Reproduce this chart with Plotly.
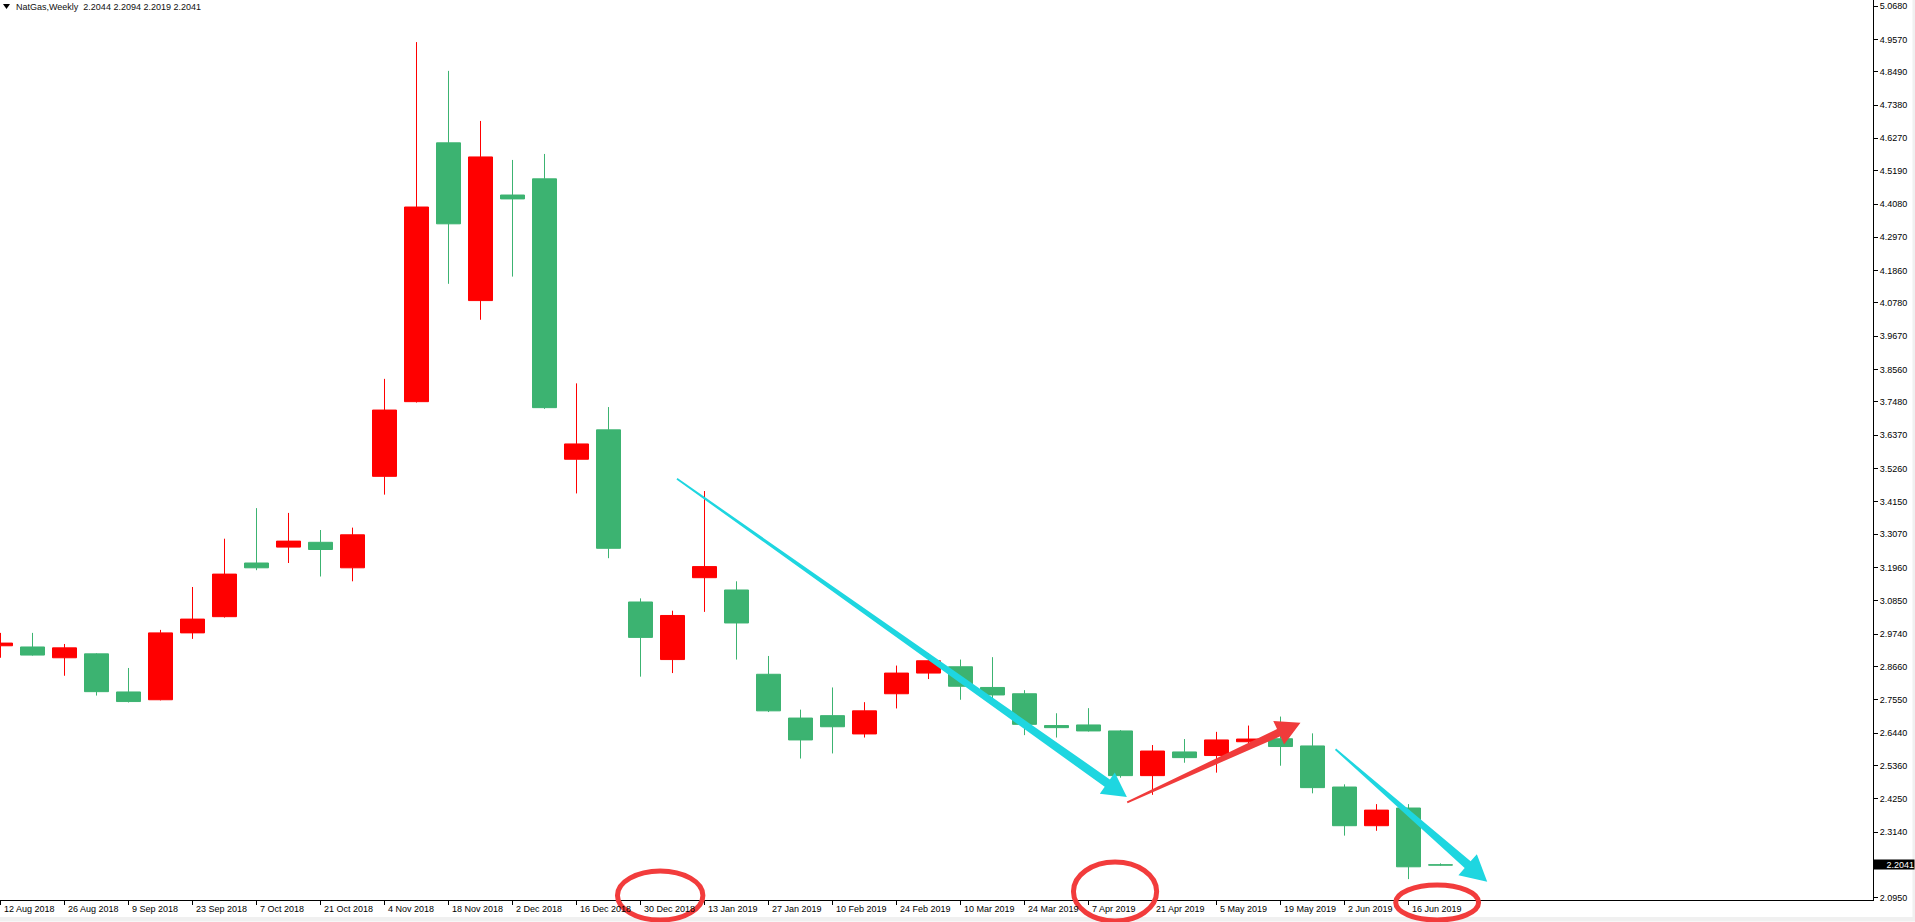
import math
import plotly.graph_objects as go

# ---------------- data (weekly NatGas candles, index 0 = week of 12 Aug 2018) ----------------
week_index = list(range(46))
open_ = [2.935, 2.931, 2.895, 2.908, 2.781, 2.755, 2.978, 3.032, 3.211, 3.264,
         3.280, 3.195, 3.500, 3.749, 4.612, 4.086, 4.438, 4.492, 3.557, 3.655,
         3.081, 2.889, 3.162, 3.121, 2.840, 2.694, 2.702, 2.641, 2.775, 2.844,
         2.865, 2.796, 2.775, 2.669, 2.671, 2.651, 2.502, 2.581, 2.569, 2.615,
         2.625, 2.601, 2.464, 2.335, 2.394, 2.2044]
high = [2.978, 2.978, 2.941, 2.910, 2.861, 2.988, 3.131, 3.292, 3.394, 3.378,
        3.321, 3.329, 3.825, 4.948, 4.852, 4.685, 4.555, 4.575, 3.810, 3.731,
        3.093, 3.052, 3.451, 3.150, 2.901, 2.722, 2.796, 2.747, 2.869, 2.910,
        2.889, 2.897, 2.787, 2.710, 2.727, 2.654, 2.604, 2.624, 2.648, 2.669,
        2.699, 2.643, 2.473, 2.407, 2.407, 2.2094]
low = [2.895, 2.902, 2.835, 2.769, 2.746, 2.753, 2.958, 3.029, 3.187, 3.211,
       3.166, 3.150, 3.439, 3.746, 4.142, 4.022, 4.166, 3.725, 3.443, 3.227,
       2.832, 2.844, 3.048, 2.889, 2.714, 2.559, 2.576, 2.629, 2.726, 2.824,
       2.755, 2.751, 2.637, 2.629, 2.649, 2.495, 2.438, 2.545, 2.512, 2.600,
       2.535, 2.443, 2.302, 2.318, 2.157, 2.2019]
close = [2.944, 2.904, 2.928, 2.782, 2.749, 2.978, 3.024, 3.174, 3.195, 3.284,
         3.256, 3.305, 3.721, 4.398, 4.342, 4.565, 4.425, 3.729, 3.608, 3.260,
         2.963, 3.036, 3.199, 3.011, 2.718, 2.621, 2.665, 2.718, 2.844, 2.885,
         2.800, 2.771, 2.673, 2.662, 2.651, 2.502, 2.584, 2.562, 2.621, 2.624,
         2.599, 2.462, 2.335, 2.387, 2.198, 2.2041]

tick_index = list(range(0, 46, 2))
tick_labels = ["12 Aug 2018", "26 Aug 2018", "9 Sep 2018", "23 Sep 2018", "7 Oct 2018",
               "21 Oct 2018", "4 Nov 2018", "18 Nov 2018", "2 Dec 2018", "16 Dec 2018",
               "30 Dec 2018", "13 Jan 2019", "27 Jan 2019", "10 Feb 2019", "24 Feb 2019",
               "10 Mar 2019", "24 Mar 2019", "7 Apr 2019", "21 Apr 2019", "5 May 2019",
               "19 May 2019", "2 Jun 2019", "16 Jun 2019"]

price_ticks = [5.0680, 4.9570, 4.8490, 4.7380, 4.6270, 4.5190, 4.4080, 4.2970, 4.1860,
               4.0780, 3.9670, 3.8560, 3.7480, 3.6370, 3.5260, 3.4150, 3.3070, 3.1960,
               3.0850, 2.9740, 2.8660, 2.7550, 2.6440, 2.5360, 2.4250, 2.3140, 2.0950]

last_price = 2.2041
title_text = "NatGas,Weekly\u00a0\u00a02.2044 2.2094 2.2019 2.2041"

# user drawings (start/end in week index & price)
arrow_starts = [(21.14, 3.492), (35.21, 2.413), (41.72, 2.590)]
arrow_ends = [(35.20, 2.431), (40.625, 2.6785), (46.46, 2.148)]
arrow_colors = ["#1ed6e0", "#f03b3b", "#1ed6e0"]

circle_x = [(19.28, 21.95), (33.53, 36.13), (43.60, 46.19)]
circle_y_px = [(871, 920), (862, 921), (885, 920)]

# ---------------- layout geometry ----------------
FIG_W, FIG_H = 1915, 922
M_L, M_R, M_T, M_B = 0, 42, 0, 22
PLOT_W = FIG_W - M_L - M_R
PLOT_H = FIG_H - M_T - M_B
PX_PER_WEEK = 32.0
x_lo = -0.5 / PX_PER_WEEK
x_hi = x_lo + PLOT_W / PX_PER_WEEK
y_lo, y_hi = 2.0873, 5.0883
PX_PER_PRICE = PLOT_H / (y_hi - y_lo)

RED = "#ff0000"
GREEN = "#3cb371"
FONT = "Liberation Sans, Arial, sans-serif"

fig = go.Figure()
fig.add_trace(go.Candlestick(
    x=week_index, open=open_, high=high, low=low, close=close,
    increasing=dict(line=dict(color=RED, width=1), fillcolor=RED),
    decreasing=dict(line=dict(color=GREEN, width=1), fillcolor=GREEN),
    whiskerwidth=0, hoverinfo="skip", showlegend=False,
))


def arrow_path(p0, p1, w0, w1, head_len, head_half):
    X0, Y0 = p0[0] * PX_PER_WEEK, -p0[1] * PX_PER_PRICE
    X1, Y1 = p1[0] * PX_PER_WEEK, -p1[1] * PX_PER_PRICE
    dx, dy = X1 - X0, Y1 - Y0
    L = math.hypot(dx, dy)
    ux, uy = dx / L, dy / L
    nx, ny = -uy, ux
    bx, by = X1 - ux * head_len, Y1 - uy * head_len
    pts = [
        (X0 + nx * w0 / 2, Y0 + ny * w0 / 2),
        (bx + nx * w1 / 2, by + ny * w1 / 2),
        (bx + nx * head_half, by + ny * head_half),
        (X1, Y1),
        (bx - nx * head_half, by - ny * head_half),
        (bx - nx * w1 / 2, by - ny * w1 / 2),
        (X0 - nx * w0 / 2, Y0 - ny * w0 / 2),
    ]
    d = []
    for k, (X, Y) in enumerate(pts):
        d.append(("M" if k == 0 else "L") + f"{X / PX_PER_WEEK:.5f},{-Y / PX_PER_PRICE:.5f}")
    return " ".join(d) + " Z"


shapes = []
arrow_widths = [(1.8, 9.0, 24, 13), (1.8, 8.0, 24, 13), (1.8, 9.0, 26, 14)]
for s, e, c, (w0, w1, hl, hh) in zip(arrow_starts, arrow_ends, arrow_colors, arrow_widths):
    shapes.append(dict(type="path", xref="x", yref="y", path=arrow_path(s, e, w0, w1, hl, hh),
                       fillcolor=c, line=dict(width=0), layer="above"))

for (cx0, cx1), (py0, py1) in zip(circle_x, circle_y_px):
    shapes.append(dict(type="circle", xref="x", yref="paper", x0=cx0, x1=cx1,
                       y0=1 - py1 / PLOT_H, y1=1 - py0 / PLOT_H,
                       line=dict(color="#f23c3c", width=5), layer="above"))

# title triangle
shapes.append(dict(type="path", xref="paper", yref="paper",
                   path=f"M{3 / PLOT_W},{1 - 4 / PLOT_H} L{10 / PLOT_W},{1 - 4 / PLOT_H} L{6.5 / PLOT_W},{1 - 9 / PLOT_H} Z",
                   fillcolor="black", line=dict(width=0)))
# window borders
shapes.append(dict(type="rect", xref="paper", yref="paper", x0=0, x1=(FIG_W - M_L) / PLOT_W,
                   y0=-(FIG_H - PLOT_H - 0.5) / PLOT_H, y1=-(917 - PLOT_H) / PLOT_H,
                   fillcolor="#f0f0f0", line=dict(width=0), layer="below"))
shapes.append(dict(type="rect", xref="paper", yref="paper", x0=(1912.5) / PLOT_W, x1=FIG_W / PLOT_W,
                   y0=-(917 - PLOT_H) / PLOT_H, y1=1,
                   fillcolor="#f0f0f0", line=dict(width=0), layer="below"))

annotations = []
for i, lab in zip(tick_index, tick_labels):
    annotations.append(dict(x=i, xref="x", y=0, yref="paper", text=lab, showarrow=False,
                            xanchor="left", yanchor="top", xshift=1, yshift=-2,
                            font=dict(family=FONT, size=9, color="black")))
annotations.append(dict(x=0, xref="paper", y=1, yref="paper", text=title_text, showarrow=False,
                        xanchor="left", yanchor="top", xshift=14, yshift=0,
                        font=dict(family=FONT, size=9, color="#101010")))
annotations.append(dict(x=1, xref="paper", y=last_price, yref="y", text="2.2041", showarrow=False,
                        xanchor="left", yanchor="middle", xshift=0, bgcolor="black",
                        borderpad=0, width=40, height=9, align="right",
                        font=dict(family=FONT, size=9, color="white")))

fig.update_layout(
    width=FIG_W, height=FIG_H,
    margin=dict(l=M_L, r=M_R, t=M_T, b=M_B, pad=0),
    paper_bgcolor="white", plot_bgcolor="white",
    boxgap=0.25, boxgroupgap=0,
    showlegend=False,
    shapes=shapes, annotations=annotations,
    xaxis=dict(range=[x_lo, x_hi], rangeslider=dict(visible=False), showgrid=False, zeroline=False,
               showline=True, linecolor="black", linewidth=1, ticks="outside", ticklen=4,
               tickcolor="black", tickwidth=1, tickvals=tick_index, showticklabels=False,
               fixedrange=True),
    yaxis=dict(range=[y_lo, y_hi], side="right", showgrid=False, zeroline=False,
               showline=True, linecolor="black", linewidth=1, ticks="outside", ticklen=4,
               tickcolor="black", tickwidth=1, tickvals=price_ticks,
               ticktext=[f"{v:.4f}" for v in price_ticks],
               tickfont=dict(family=FONT, size=9, color="black"), fixedrange=True),
)

fig.write_html("out.html", config={"displayModeBar": False},
               post_script="document.body.style.margin='0px';document.body.style.overflow='hidden';")
